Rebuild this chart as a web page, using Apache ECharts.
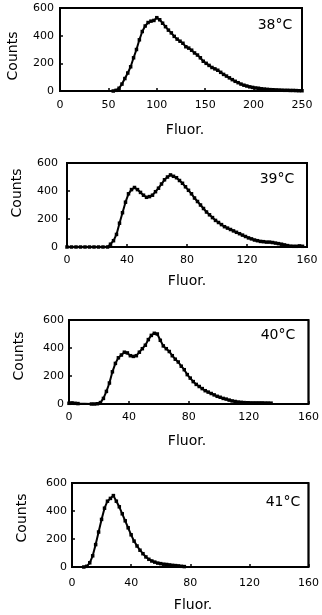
<!DOCTYPE html>
<html>
<head>
<meta charset="utf-8">
<script src="https://cdn.jsdelivr.net/npm/echarts@6/dist/echarts.min.js"></script>
<style>
  html, body { margin: 0; padding: 0; background: #fff; }
  #main { width: 322px; height: 615px; }
</style>
</head>
<body>
<div id="main"></div>
<script>
// histogram data (Fluor. channel, Counts)
var fluor38 = [55, 58, 61, 64, 67, 70, 73, 76, 79, 82, 85, 88, 91, 94, 97, 100, 103, 106, 109, 112, 115, 118, 121, 124, 127, 130, 133, 136, 139, 142, 145, 148, 151, 154, 157, 160, 163, 166, 169, 172, 175, 178, 181, 184, 187, 190, 193, 196, 199, 202, 205, 208, 211, 214, 217, 220, 223, 226, 229, 232, 235, 238, 241, 244, 247, 250];
var counts38 = [0, 5, 20, 50, 90, 130, 175, 240, 300, 370, 430, 470, 495, 505, 510, 530, 515, 490, 465, 440, 420, 395, 375, 360, 345, 320, 310, 295, 275, 260, 240, 215, 200, 185, 170, 160, 150, 135, 120, 108, 95, 82, 70, 60, 50, 42, 36, 30, 26, 22, 20, 16, 14, 12, 10, 9, 8, 7, 6, 5, 5, 4, 4, 3, 2, 2];

var fluor39 = [0, 3, 6, 9, 12, 15, 18, 21, 24, 27, 29, 31, 33, 35, 37, 39, 41, 43, 45, 47, 49, 51, 53, 55, 57, 59, 61, 63, 65, 67, 69, 71, 73, 75, 77, 79, 81, 83, 85, 87, 89, 91, 93, 95, 97, 99, 101, 103, 105, 107, 109, 111, 113, 115, 117, 119, 121, 123, 125, 127, 129, 131, 133, 135, 137, 139, 141, 143, 145, 147, 149, 151, 153, 155, 157];
var counts39 = [0, 0, 0, 0, 0, 0, 0, 0, 0, 0, 20, 45, 90, 170, 245, 320, 380, 410, 425, 410, 390, 370, 355, 360, 370, 395, 420, 450, 480, 500, 515, 505, 495, 475, 455, 430, 405, 380, 350, 325, 300, 275, 250, 230, 210, 190, 175, 160, 145, 135, 125, 115, 105, 95, 85, 75, 65, 58, 50, 45, 40, 38, 35, 35, 32, 28, 24, 20, 15, 10, 6, 5, 5, 8, 5];

var fluor40 = [0, 2, 4, 6, 15, 17, 19, 21, 23, 25, 27, 29, 31, 33, 35, 37, 39, 41, 43, 45, 47, 49, 51, 53, 55, 57, 59, 61, 63, 65, 67, 69, 71, 73, 75, 77, 79, 81, 83, 85, 87, 89, 91, 93, 95, 97, 99, 101, 103, 105, 107, 109, 111, 113, 115, 117, 119, 121, 123, 125, 127, 129, 131, 133, 135];
var counts40 = [5, 8, 5, 3, 0, 0, 2, 10, 40, 90, 150, 230, 290, 330, 350, 370, 365, 345, 340, 345, 370, 395, 420, 460, 490, 505, 500, 455, 415, 395, 375, 345, 320, 300, 270, 245, 210, 185, 160, 140, 125, 110, 95, 85, 75, 65, 55, 48, 40, 35, 28, 22, 18, 14, 12, 10, 9, 8, 8, 8, 8, 8, 7, 7, 6];

var fluor41 = [8, 10, 12, 14, 16, 18, 20, 22, 24, 26, 28, 30, 32, 34, 36, 38, 40, 42, 44, 46, 48, 50, 52, 54, 56, 58, 60, 62, 64, 66, 68, 70, 72, 74, 76];
var counts41 = [0, 5, 30, 80, 160, 250, 340, 420, 470, 490, 510, 470, 430, 380, 330, 280, 230, 185, 150, 120, 95, 72, 55, 43, 35, 28, 24, 20, 18, 15, 12, 10, 8, 5, 3];

var panelLabels = ['38°C', '39°C', '40°C', '41°C'];
var xMax = [250, 160, 160, 160];
var xStep = [50, 40, 40, 40];
var countTicks = [0, 200, 400, 600];

var chart = echarts.init(document.getElementById('main'));
var font = 'DejaVu Sans';

// plot boxes
var boxes = [
  { left: 60, top: 8, right: 20, height: 83, yMargin: 6, xMargin: 9 },
  { left: 67, top: 163, right: 15, height: 84, yMargin: 9, xMargin: 8 },
  { left: 69, top: 320, right: 11, height: 84, yMargin: 5, xMargin: 8 },
  { left: 72, top: 483, right: 8, height: 84, yMargin: 5, xMargin: 11 }
];

var pairs = function(xs, ys) {
  var out = [];
  for (var i = 0; i < xs.length; i++) {
    out.push([xs[i], ys[i]]);
  }
  return out;
};
var seriesData = [
  pairs(fluor38, counts38),
  pairs(fluor39, counts39),
  pairs(fluor40, counts40),
  pairs(fluor41, counts41)
];

var grids = [], xAxes = [], yAxes = [], series = [], graphics = [];

for (var j = 0; j < 4; j++) {
  var b = boxes[j];
  grids.push({
    left: b.left, top: b.top, right: b.right, height: b.height,
    show: true, borderColor: '#000', borderWidth: 2
  });
  xAxes.push({
    type: 'value', gridIndex: j, min: 0, max: xMax[j], interval: xStep[j],
    axisLine: { show: true, lineStyle: { color: '#000', width: 1.5 } },
    axisTick: { show: true, inside: true, length: 3, lineStyle: { color: '#000', width: 1.5 } },
    axisLabel: { color: '#000', fontFamily: font, fontSize: 11, margin: b.xMargin },
    splitLine: { show: false }
  });
  yAxes.push({
    type: 'value', gridIndex: j, min: countTicks[0], max: countTicks[3], interval: 200,
    axisLine: { show: true, lineStyle: { color: '#000', width: 1.5 } },
    axisTick: { show: true, inside: true, length: 3, lineStyle: { color: '#000', width: 1.5 } },
    axisLabel: { color: '#000', fontFamily: font, fontSize: 11, margin: b.yMargin },
    splitLine: { show: false }
  });
  series.push({
    type: 'line', xAxisIndex: j, yAxisIndex: j,
    symbol: 'rect', symbolSize: 3.5, showSymbol: true,
    itemStyle: { color: '#000' },
    lineStyle: { color: '#000', width: 2 },
    data: seriesData[j]
  });
  // top and right edges of the frame, along the axis extents
  series.push({
    type: 'line', xAxisIndex: j, yAxisIndex: j,
    symbol: 'none', clip: false, silent: true,
    lineStyle: { color: '#000', width: 1.5 },
    data: [[0, countTicks[3]], [xMax[j], countTicks[3]], [xMax[j], countTicks[0]]]
  });
}

// titles: Counts (rotated), Fluor., temperature
var countsPos = [[13, 56], [17, 193], [19, 356], [22, 518]];
var fluorPos = [[185, 130], [187, 281], [187, 441], [193, 605]];
var tempPos = [[275, 25], [277, 179], [278, 335], [283, 502]];
var txt = function(x, y, s, rot) {
  return {
    type: 'text', x: x, y: y, rotation: rot || 0, z: 10,
    style: {
      text: s, fill: '#000', font: '14px "' + font + '"',
      align: 'center', verticalAlign: 'middle'
    }
  };
};
for (var k = 0; k < 4; k++) {
  graphics.push(txt(countsPos[k][0], countsPos[k][1], 'Counts', Math.PI / 2));
  graphics.push(txt(fluorPos[k][0], fluorPos[k][1], 'Fluor.'));
  graphics.push(txt(tempPos[k][0], tempPos[k][1], panelLabels[k]));
}

chart.setOption({
  grid: grids,
  xAxis: xAxes,
  yAxis: yAxes,
  series: series,
  graphic: graphics
});
</script>
</body>
</html>
